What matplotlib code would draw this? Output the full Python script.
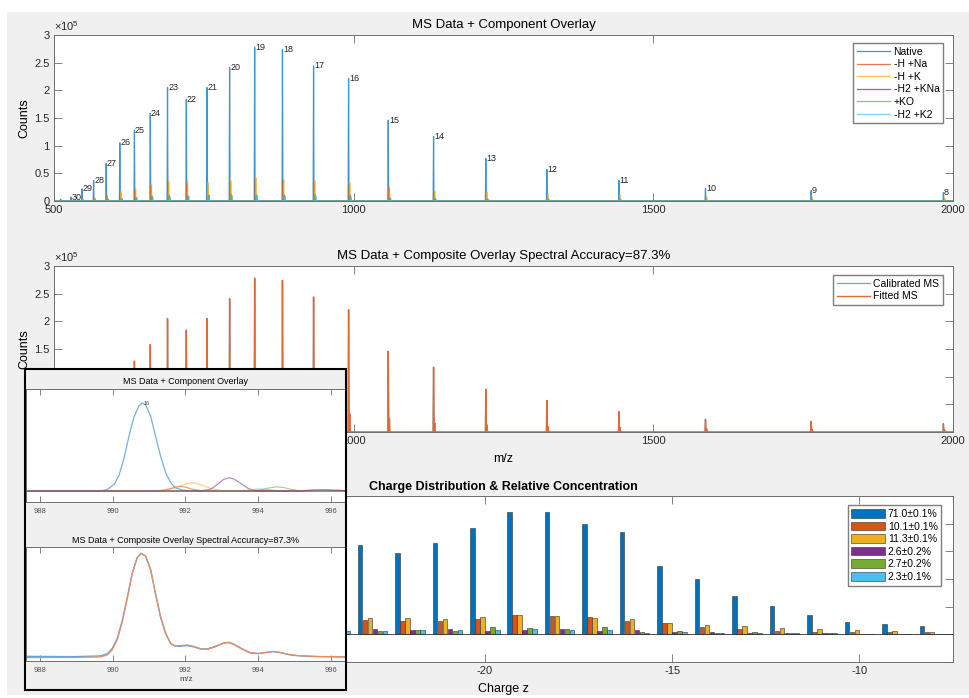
import numpy as np
import matplotlib.pyplot as plt
from matplotlib.patches import Rectangle
from matplotlib.ticker import FuncFormatter

plt.rcParams['font.family'] = ['Liberation Sans', 'DejaVu Sans']
plt.rcParams['axes.unicode_minus'] = False

W, H = 969, 698

# matlab default line colours
colors = ['#0072BD', '#D95319', '#EDB120', '#7E2F8E', '#77AC30', '#4DBEEE', '#A2142F']

# ---- full spectrum, one stick per charge state
charges = [31, 30, 29, 28, 27, 26, 25, 24, 23, 22, 21, 20, 19, 18, 17, 16, 15, 14, 13, 12, 11, 10, 9, 8]
native_mz = [511.3, 528.3, 546.6, 566.1, 587.1, 609.8, 634.2, 660.7, 689.4, 720.8, 755.2, 793.0,
             834.8, 881.2, 933.1, 991.5, 1057.7, 1133.3, 1220.5, 1322.3, 1442.6, 1587.0, 1763.4, 1984.0]
native_h = [3000, 7000, 22000, 37000, 68000, 105000, 128000, 158000, 205000, 184000, 205000, 241000,
            278000, 274000, 244000, 221000, 146000, 117000, 77000, 57000, 37000, 23000, 19000, 15000]

comp_names = ['Native', '-H +Na', '-H +K', '-H2 +KNa', '+KO', '-H2 +K2']
comp_shift = [0.0, 1.2, 2.0, 3.2, 2.8, 4.0]   # m/z offset of adduct stick from native stick
na_h = [0, 1000, 3000, 5000, 9000, 15000, 20000, 27000, 33000, 31000, 30000, 33000,
        40000, 37000, 35000, 29000, 23000, 15000, 11000, 8000, 6000, 4000, 3000, 3000]
k_h = [0, 1000, 3000, 6000, 10000, 17000, 22000, 30000, 36000, 36000, 34000, 37000,
       42000, 39000, 37000, 33000, 25000, 18000, 16000, 13000, 11000, 8000, 7000, 6000]
kna_h = [0, 0, 1000, 2000, 3000, 4000, 5000, 7000, 9000, 8000, 10000, 7000,
         9000, 10000, 7000, 9000, 5000, 4000, 3000, 2000, 2000, 1000, 1000, 500]
ko_h = [0, 0, 1000, 2000, 3000, 5000, 7000, 9000, 10000, 9000, 10000, 12000,
        12000, 11000, 12000, 10000, 6000, 4000, 3000, 2000, 1000, 1000, 1000, 1000]
k2_h = [0, 0, 1000, 1000, 2000, 4000, 6000, 7000, 8000, 9000, 9000, 10000,
        10000, 9000, 9000, 6000, 5000, 3000, 3000, 2000, 1000, 1000, 500, 500]
comp_h = [native_h, na_h, k_h, kna_h, ko_h, k2_h]

# composite fit: main stick + merged adduct shoulder
fit_side = [0, 1000, 4000, 7000, 12000, 20000, 25000, 33000, 38000, 37000, 36000, 40000,
            45000, 42000, 40000, 33000, 24000, 16000, 13000, 10000, 8000, 6000, 4000, 4000]
fit_shift = 2.0

# ---- zoom on the z=16 peak (relative intensity)
zin_native_x = [987.62, 989.67, 989.86, 990.05, 990.18, 990.31, 990.45, 990.59, 990.73, 990.82,
                990.91, 991.05, 991.18, 991.32, 991.46, 991.60, 991.73, 991.92, 992.14, 996.41]
zin_native_y = [0, 0, 0.018, 0.077, 0.18, 0.36, 0.62, 0.84, 0.97, 1.0,
                0.98, 0.85, 0.63, 0.40, 0.21, 0.095, 0.037, 0.011, 0, 0]
zin_na_x = [987.62, 991.2, 991.45, 991.65, 991.85, 992.0, 992.2, 992.45, 992.6, 996.41]
zin_na_y = [0, 0, 0.012, 0.035, 0.053, 0.045, 0.02, 0.004, 0, 0]
zin_k_x = [987.62, 991.3, 991.6, 991.9, 992.1, 992.25, 992.45, 992.7, 992.95, 993.1, 996.41]
zin_k_y = [0, 0, 0.02, 0.065, 0.088, 0.09, 0.07, 0.03, 0.006, 0, 0]
zin_kna_x = [987.62, 992.4, 992.7, 992.9, 993.05, 993.2, 993.35, 993.55, 993.75, 993.95, 994.1, 996.41]
zin_kna_y = [0, 0, 0.02, 0.08, 0.13, 0.15, 0.135, 0.08, 0.025, 0.004, 0, 0]
zin_ko_x = [987.62, 993.9, 994.1, 994.3, 994.5, 994.7, 994.9, 995.1, 995.3, 996.41]
zin_ko_y = [0, 0, 0.015, 0.035, 0.047, 0.04, 0.02, 0.006, 0, 0]
zin_k2_x = [987.62, 993.5, 993.75, 994.0, 994.2, 994.45, 994.7, 996.41]
zin_k2_y = [0, 0, 0.01, 0.022, 0.02, 0.008, 0, 0]
zin_o_x = [987.62, 995.2, 995.5, 995.8, 996.1, 996.41]
zin_o_y = [0, 0, 0.012, 0.015, 0.01, 0.005]

zc_x = [987.62, 988.94, 989.67, 989.86, 989.99, 990.13, 990.27, 990.41, 990.54, 990.68, 990.79,
        990.91, 991.05, 991.18, 991.32, 991.46, 991.60, 991.73, 991.87, 992.05, 992.24, 992.42,
        992.60, 992.83, 993.06, 993.20, 993.33, 993.56, 993.79, 994.02, 994.25, 994.43, 994.61,
        994.89, 995.16, 995.62, 996.41]
zc_calib = [0.006, 0.003, 0.010, 0.032, 0.081, 0.177, 0.355, 0.581, 0.806, 0.961, 1.0,
            0.974, 0.839, 0.613, 0.387, 0.226, 0.129, 0.103, 0.103, 0.110, 0.097, 0.077,
            0.077, 0.103, 0.135, 0.139, 0.123, 0.077, 0.039, 0.032, 0.045, 0.052, 0.042,
            0.019, 0.010, 0.003, 0.0]
zc_fit = [-0.006, -0.005, 0.0, 0.020, 0.068, 0.165, 0.340, 0.570, 0.800, 0.960, 1.0,
          0.975, 0.845, 0.620, 0.395, 0.232, 0.132, 0.106, 0.110, 0.116, 0.103, 0.080,
          0.072, 0.098, 0.135, 0.142, 0.126, 0.080, 0.042, 0.034, 0.045, 0.053, 0.045,
          0.022, 0.012, 0.005, 0.002]

# ---- charge distribution bars
bar_z = [-31, -30, -29, -28, -27, -26, -25, -24, -23, -22, -21, -20,
         -19, -18, -17, -16, -15, -14, -13, -12, -11, -10, -9, -8]
bar_native = [0.05, 0.11, 0.35, 0.58, 1.07, 1.65, 2.0, 2.5, 3.24, 2.95, 3.30, 3.83,
              4.43, 4.42, 3.98, 3.71, 2.48, 2.0, 1.37, 1.01, 0.70, 0.46, 0.37, 0.31]
bar_na = [0.01, 0.02, 0.06, 0.10, 0.17, 0.27, 0.33, 0.40, 0.52, 0.48, 0.49, 0.54,
          0.70, 0.67, 0.64, 0.48, 0.40, 0.28, 0.18, 0.12, 0.10, 0.07, 0.07, 0.08]
bar_k = [0.01, 0.02, 0.06, 0.11, 0.19, 0.30, 0.36, 0.45, 0.58, 0.58, 0.55, 0.61,
         0.69, 0.66, 0.58, 0.55, 0.42, 0.33, 0.29, 0.22, 0.18, 0.16, 0.12, 0.10]
bar_kna = [0.0, 0.01, 0.02, 0.03, 0.05, 0.08, 0.10, 0.14, 0.18, 0.16, 0.20, 0.12,
           0.17, 0.20, 0.12, 0.16, 0.10, 0.08, 0.05, 0.04, 0.04, 0.02, 0.02, 0.01]
bar_ko = [0.0, 0.01, 0.01, 0.02, 0.04, 0.06, 0.08, 0.10, 0.11, 0.14, 0.12, 0.27,
          0.24, 0.20, 0.25, 0.10, 0.11, 0.06, 0.07, 0.04, 0.04, 0.03, 0.02, 0.01]
bar_k2 = [0.0, 0.01, 0.01, 0.02, 0.03, 0.05, 0.07, 0.12, 0.11, 0.14, 0.16, 0.17,
          0.19, 0.16, 0.14, 0.06, 0.08, 0.06, 0.06, 0.04, 0.04, 0.03, 0.01, 0.01]
bar_series = [bar_native, bar_na, bar_k, bar_kna, bar_ko, bar_k2]
bar_labels = ['71.0\u00b10.1%', '10.1\u00b10.1%', '11.3\u00b10.1%', '2.6\u00b10.2%', '2.7\u00b10.2%', '2.3\u00b10.1%']
# -30 and -25 sit behind the inset in the original
bar_ticks = [-30, -25, -20, -15, -10]
bar_ticklabels = ['', '', '-20', '-15', '-10']


def px(x0, y0, x1, y1):
    # pixel box (top-left origin) -> figure fraction rect
    return [x0 / W, 1 - y1 / H, (x1 - x0) / W, (y1 - y0) / H]


def sticks(pos, hts, shift=0.0, half=0.7):
    # stick spectrum as one continuous trace over the 500-2000 window
    x, y = [500], [0]
    for p, h in zip(pos, hts):
        x += [p + shift - half, p + shift, p + shift + half]
        y += [0, h, 0]
    x.append(2000)
    y.append(0)
    return x, y


def style_axes(ax, size=8):
    ax.tick_params(direction='in', top=True, right=True, length=5.5, width=0.6,
                   color='#6e6e6e', labelsize=size, labelcolor='#262626', pad=3)
    for s in ax.spines.values():
        s.set_color('#6e6e6e')
        s.set_linewidth(0.7)


fig = plt.figure(figsize=(W / 100, H / 100), dpi=100)
fig.patch.set_facecolor('white')
fig.add_artist(Rectangle((7 / W, 1 - 695 / H), 962 / W, 683 / H, transform=fig.transFigure,
                         facecolor='#f0f0f0', edgecolor='none', zorder=-5))

counts_fmt = FuncFormatter(lambda v, p: f'{v / 1e5:g}')

# ---- top: components
ax1 = fig.add_axes(px(54, 35, 953, 201))
for k in range(6):
    xs, ys = sticks(native_mz, comp_h[k], comp_shift[k])
    ax1.plot(xs, ys, color=colors[k], lw=0.9, alpha=0.75, label=comp_names[k])
for z, p, h in zip(charges, native_mz, native_h):
    if z <= 30:
        ax1.text(p + 1, h, str(z), fontsize=6.5, color='#262626', ha='left', va='center')
ax1.set_xlim(500, 2000)
ax1.set_ylim(0, 3e5)
ax1.set_xticks([500, 1000, 1500, 2000])
ax1.set_yticks(np.arange(0, 3.01e5, 0.5e5))
ax1.yaxis.set_major_formatter(counts_fmt)
ax1.set_ylabel('Counts', fontsize=9, labelpad=3)
ax1.set_title('MS Data + Component Overlay', fontsize=9.5, pad=5)
ax1.text(0, 1.01, r'$\mathregular{\times10^{5}}$', transform=ax1.transAxes, fontsize=8,
         color='#262626', va='bottom', ha='left')
style_axes(ax1)
ax1.legend(loc='upper right', bbox_to_anchor=(0.989, 0.952), borderaxespad=0, fontsize=7.5,
           handlelength=3.2, handletextpad=0.3, labelspacing=0.25, borderpad=0.35,
           fancybox=False, framealpha=1, edgecolor='#7f7f7f')

# ---- middle: composite
ax2 = fig.add_axes(px(54, 266, 953, 432))
xs, ys = sticks(native_mz, native_h)
ax2.plot(xs, ys, color=colors[0], lw=0.9, alpha=0.6, label='Calibrated MS')
fx, fy = [500], [0]
for p, h, s in zip(native_mz, native_h, fit_side):
    fx += [p - 0.7, p, p + 1.0, p + fit_shift, p + 3.0]
    fy += [0, h, 0, s, 0]
fx.append(2000)
fy.append(0)
ax2.plot(fx, fy, color='#e0693a', lw=1.0, label='Fitted MS')
ax2.set_xlim(500, 2000)
ax2.set_ylim(0, 3e5)
ax2.set_xticks([500, 1000, 1500, 2000])
ax2.set_yticks(np.arange(0, 3.01e5, 0.5e5))
ax2.yaxis.set_major_formatter(counts_fmt)
ax2.set_ylabel('Counts', fontsize=9, labelpad=3)
ax2.set_xlabel('m/z', fontsize=9, labelpad=5)
ax2.set_title('MS Data + Composite Overlay Spectral Accuracy=87.3%', fontsize=9.5, pad=5)
ax2.text(0, 1.01, r'$\mathregular{\times10^{5}}$', transform=ax2.transAxes, fontsize=8,
         color='#262626', va='bottom', ha='left')
style_axes(ax2)
ax2.legend(loc='upper right', bbox_to_anchor=(0.989, 0.946), borderaxespad=0, fontsize=7.5,
           handlelength=3.2, handletextpad=0.3, labelspacing=0.25, borderpad=0.35,
           fancybox=False, framealpha=1, edgecolor='#7f7f7f')

# ---- bottom: charge distribution
ax3 = fig.add_axes(px(54, 496, 953, 662))
slot = 0.8 / 6
zarr = np.array(bar_z, dtype=float)
for k in range(6):
    ax3.bar(zarr + (k - 2.5) * slot, bar_series[k], width=slot * 0.9, color=colors[k],
            edgecolor='#303030', linewidth=0.4, label=bar_labels[k])
ax3.axhline(0, color='#303030', lw=0.6)
ax3.set_xlim(-31.5, -7.5)
ax3.set_ylim(-1, 5)
ax3.set_xticks(bar_ticks)
ax3.set_xticklabels(bar_ticklabels)
ax3.set_yticks(range(-1, 6))
ax3.set_xlabel('Charge z', fontsize=9, labelpad=5)
ax3.set_title('Charge Distribution & Relative Concentration', fontsize=9, fontweight='bold', pad=4)
style_axes(ax3)
ax3.tick_params(labelleft=False)
ax3.legend(loc='upper right', bbox_to_anchor=(0.987, 0.944), borderaxespad=0, fontsize=7.5,
           handlelength=3.2, handleheight=0.9, handletextpad=0.3, labelspacing=0.25,
           borderpad=0.35, fancybox=False, framealpha=1, edgecolor='#7f7f7f')

# ---- inset: zoom on z=16
fig.add_artist(Rectangle((25 / W, 1 - 690 / H), 321 / W, 321 / H, transform=fig.transFigure,
                         facecolor='#f0f0f0', edgecolor='none', zorder=5))

ai1 = fig.add_axes(px(26, 388.5, 345.5, 502))
ai1.set_zorder(6)
zin_sets = [(zin_native_x, zin_native_y), (zin_na_x, zin_na_y), (zin_k_x, zin_k_y),
            (zin_kna_x, zin_kna_y), (zin_ko_x, zin_ko_y), (zin_k2_x, zin_k2_y), (zin_o_x, zin_o_y)]
for k, (xx, yy) in enumerate(zin_sets):
    ai1.plot(xx, yy, color=colors[k], lw=0.9, alpha=0.55)
ai1.text(990.85, 1.0, '16', fontsize=4, color='#404040', ha='left', va='center')
ai1.set_xlim(987.62, 996.41)
ai1.set_ylim(-0.125, 1.165)
ai1.set_xticks([988, 990, 992, 994, 996])
ai1.set_yticks([])
ai1.set_title('MS Data + Component Overlay', fontsize=6.5, pad=3)
style_axes(ai1, size=5.5)
ai1.tick_params(length=4, labelcolor='#505050', pad=4)

ai2 = fig.add_axes(px(26, 546.7, 345.5, 661))
ai2.set_zorder(6)
ai2.plot(zc_x, zc_calib, color='#5aa9e0', lw=1.0)
ai2.plot(zc_x, zc_fit, color='#ea8d63', lw=0.9)
ai2.set_xlim(987.62, 996.41)
ai2.set_ylim(-0.039, 1.065)
ai2.set_xticks([988, 990, 992, 994, 996])
ai2.set_yticks([])
ai2.set_xlabel('m/z', fontsize=6, labelpad=1.5, color='#404040')
ai2.set_title('MS Data + Composite Overlay Spectral Accuracy=87.3%', fontsize=6.5, pad=3)
style_axes(ai2, size=5.5)
ai2.tick_params(length=4, labelcolor='#505050', pad=4)

fig.add_artist(Rectangle((25 / W, 1 - 690 / H), 321 / W, 321 / H, transform=fig.transFigure,
                         facecolor='none', edgecolor='black', linewidth=1.5, zorder=7))

fig.savefig('out.png', dpi=100)
